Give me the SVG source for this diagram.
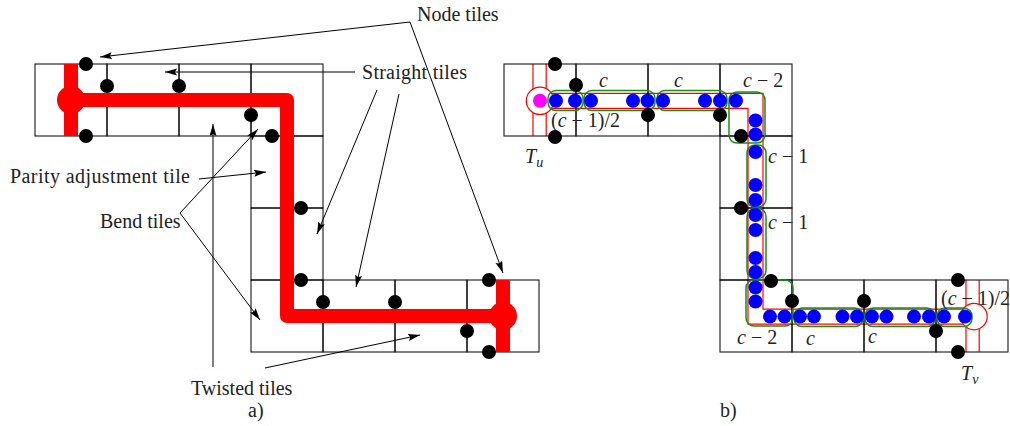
<svg xmlns="http://www.w3.org/2000/svg" width="1010" height="426" viewBox="0 0 1010 426">
<defs>
<style>
.tile{fill:none;stroke:#000;stroke-width:1}
.dot{fill:#000}
.bdot{fill:#0000ff}
.grp{fill:none;stroke:#1a8c1a;stroke-width:1.5}
.lbl{font-size:20px;fill:#222}
.it{font-style:italic}
.sub{font-style:italic;font-size:14px}
.con{fill:none;stroke:#000;stroke-width:1}
.ring{fill:#fff;stroke:#ff0000;stroke-width:1.2}
</style>
<marker id="arr" markerUnits="userSpaceOnUse" markerWidth="14" markerHeight="8" refX="12" refY="3.5" orient="auto">
<path d="M0,0 L12,3.5 L0,7 L2,3.5 z" fill="#000"/>
</marker>
</defs>
<rect width="1010" height="426" fill="#fff"/>

<!-- ===== a) ===== -->
<g id="a-tiles">
<rect class="tile" x="35" y="64" width="72" height="72"/>
<rect class="tile" x="107" y="64" width="72" height="72"/>
<rect class="tile" x="179" y="64" width="72" height="72"/>
<rect class="tile" x="251" y="64" width="72" height="72"/>
<rect class="tile" x="251" y="136" width="72" height="72"/>
<rect class="tile" x="251" y="208" width="72" height="72"/>
<rect class="tile" x="251" y="280" width="72" height="72"/>
<rect class="tile" x="323" y="280" width="72" height="72"/>
<rect class="tile" x="395" y="280" width="72" height="72"/>
<rect class="tile" x="467" y="280" width="72" height="72"/>
</g>
<g id="a-path" fill="#ff0000">
<path d="M71,100 H287 V316 H503" fill="none" stroke="#ff0000" stroke-width="14" stroke-linejoin="round"/>
<rect x="64" y="64" width="14" height="72"/>
<circle cx="71" cy="100" r="14"/>
<rect x="496" y="280" width="14" height="72"/>
<circle cx="503" cy="316" r="14"/>
</g>
<g id="a-dots">
<circle class="dot" cx="86" cy="64" r="7"/>
<circle class="dot" cx="107" cy="86" r="7"/>
<circle class="dot" cx="179" cy="86" r="7"/>
<circle class="dot" cx="86" cy="136" r="7"/>
<circle class="dot" cx="251" cy="115" r="7"/>
<circle class="dot" cx="272" cy="136" r="7"/>
<circle class="dot" cx="301" cy="208" r="7"/>
<circle class="dot" cx="301" cy="280" r="7"/>
<circle class="dot" cx="323" cy="302" r="7"/>
<circle class="dot" cx="395" cy="302" r="7"/>
<circle class="dot" cx="489" cy="280" r="7"/>
<circle class="dot" cx="467" cy="331" r="7"/>
<circle class="dot" cx="489" cy="352" r="7"/>
</g>

<g id="connectors">
<line class="con" x1="410" y1="22" x2="100" y2="57" marker-end="url(#arr)"/>
<line class="con" x1="410" y1="22" x2="503" y2="273" marker-end="url(#arr)"/>
<line class="con" x1="355" y1="72" x2="165" y2="72" marker-end="url(#arr)"/>
<line class="con" x1="377" y1="90" x2="317" y2="234" marker-end="url(#arr)"/>
<line class="con" x1="399" y1="94" x2="356" y2="287" marker-end="url(#arr)"/>
<line class="con" x1="199" y1="179" x2="266" y2="172" marker-end="url(#arr)"/>
<line class="con" x1="180" y1="213" x2="258" y2="129" marker-end="url(#arr)"/>
<line class="con" x1="180" y1="213" x2="260" y2="320" marker-end="url(#arr)"/>
<line class="con" x1="213" y1="367" x2="213" y2="124" marker-end="url(#arr)"/>
<line class="con" x1="265" y1="368" x2="420" y2="335" marker-end="url(#arr)"/>
</g>

<g id="a-labels" font-family="'Liberation Serif', 'DejaVu Serif', serif">
<text id="lbl-node" class="lbl" x="417" y="21">Node tiles</text>
<text id="lbl-straight" class="lbl" x="362" y="79" textLength="105">Straight tiles</text>
<text id="lbl-parity" class="lbl" x="10" y="183" textLength="180">Parity adjustment tile</text>
<text id="lbl-bend" class="lbl" x="100" y="228">Bend tiles</text>
<text id="lbl-twisted" class="lbl" x="191" y="395">Twisted tiles</text>
<text id="lbl-a" class="lbl" x="248" y="417">a)</text>
</g>

<!-- ===== b) ===== -->
<g id="b-channel">
<g fill="#ff0000">
<path d="M540,100.8 H755.5 V316.6 H973" fill="none" stroke="#ff0000" stroke-width="16.2"/>
<rect x="532.4" y="64" width="14.4" height="72"/>
<rect x="965.4" y="280" width="14.4" height="72"/>
</g>
<g fill="#ffffff">
<path d="M540,100.8 H755.5 V316.6 H973" fill="none" stroke="#ffffff" stroke-width="13.8"/>
<rect x="533.6" y="64" width="12" height="72"/>
<rect x="966.6" y="280" width="12" height="72"/>
</g>
</g>
<g id="b-tiles">
<rect class="tile" x="504" y="64" width="72" height="72"/>
<rect class="tile" x="576" y="64" width="72" height="72"/>
<rect class="tile" x="648" y="64" width="72" height="72"/>
<rect class="tile" x="720" y="64" width="72" height="72"/>
<rect class="tile" x="720" y="136" width="72" height="72"/>
<rect class="tile" x="720" y="208" width="72" height="72"/>
<rect class="tile" x="720" y="280" width="72" height="72"/>
<rect class="tile" x="792" y="280" width="72" height="72"/>
<rect class="tile" x="864" y="280" width="72" height="72"/>
<rect class="tile" x="936" y="280" width="72" height="72"/>
</g>
<g id="b-terminals">
<circle class="ring" cx="540" cy="100.8" r="13.7"/>
<circle class="ring" cx="974" cy="316.6" r="13.2"/>
</g>
<g id="b-groups">
<rect class="grp" x="548" y="90.5" width="35" height="20" rx="8"/>
<rect class="grp" x="584" y="90.5" width="71" height="20" rx="8"/>
<rect class="grp" x="657" y="90.5" width="70" height="20" rx="8"/>
<rect class="grp" x="729" y="92" width="36" height="51" rx="8"/>
<rect class="grp" x="747" y="145" width="19" height="62" rx="8"/>
<rect class="grp" x="747" y="208.5" width="19" height="70" rx="8"/>
<rect class="grp" x="746" y="280" width="47" height="46" rx="8"/>
<rect class="grp" x="794" y="308" width="69" height="18.5" rx="8"/>
<rect class="grp" x="865" y="308" width="70" height="18.5" rx="8"/>
<rect class="grp" x="937" y="308" width="35" height="18.5" rx="8"/>
</g>
<g id="b-black-dots">
<circle class="dot" cx="555" cy="64" r="7"/>
<circle class="dot" cx="576" cy="85" r="7"/>
<circle class="dot" cx="555" cy="137" r="7"/>
<circle class="dot" cx="648" cy="115" r="7"/>
<circle class="dot" cx="720" cy="115" r="7"/>
<circle class="dot" cx="741" cy="136" r="7"/>
<circle class="dot" cx="741" cy="208" r="7"/>
<circle class="dot" cx="771" cy="281" r="7"/>
<circle class="dot" cx="792" cy="301" r="7"/>
<circle class="dot" cx="864" cy="301" r="7"/>
<circle class="dot" cx="958" cy="280" r="7"/>
<circle class="dot" cx="936" cy="331" r="7"/>
<circle class="dot" cx="958" cy="352" r="7"/>
</g>
<g id="b-blue-dots">
<circle cx="540" cy="100.8" r="7" fill="#ff00ff"/>
<circle class="bdot" cx="556" cy="100.8" r="7"/>
<circle class="bdot" cx="575" cy="100.8" r="7"/>
<circle class="bdot" cx="591" cy="100.8" r="7"/>
<circle class="bdot" cx="633" cy="100.8" r="7"/>
<circle class="bdot" cx="647.5" cy="100.8" r="7"/>
<circle class="bdot" cx="663" cy="100.8" r="7"/>
<circle class="bdot" cx="705" cy="100.8" r="7"/>
<circle class="bdot" cx="720" cy="100.8" r="7"/>
<circle class="bdot" cx="736" cy="100.8" r="7"/>
<circle class="bdot" cx="755.5" cy="120.5" r="7"/>
<circle class="bdot" cx="755.5" cy="134.5" r="7"/>
<circle class="bdot" cx="755.5" cy="152" r="7"/>
<circle class="bdot" cx="755.5" cy="185" r="7"/>
<circle class="bdot" cx="755.5" cy="200" r="7"/>
<circle class="bdot" cx="755.5" cy="215" r="7"/>
<circle class="bdot" cx="755.5" cy="230" r="7"/>
<circle class="bdot" cx="755.5" cy="258" r="7"/>
<circle class="bdot" cx="755.5" cy="272" r="7"/>
<circle class="bdot" cx="755.5" cy="287.5" r="7"/>
<circle class="bdot" cx="755.5" cy="301.5" r="7"/>
<circle class="bdot" cx="770" cy="316.6" r="7"/>
<circle class="bdot" cx="784.5" cy="316.6" r="7"/>
<circle class="bdot" cx="800" cy="316.6" r="7"/>
<circle class="bdot" cx="814" cy="316.6" r="7"/>
<circle class="bdot" cx="842.5" cy="316.6" r="7"/>
<circle class="bdot" cx="857" cy="316.6" r="7"/>
<circle class="bdot" cx="872" cy="316.6" r="7"/>
<circle class="bdot" cx="886.5" cy="316.6" r="7"/>
<circle class="bdot" cx="914" cy="316.6" r="7"/>
<circle class="bdot" cx="929" cy="316.6" r="7"/>
<circle class="bdot" cx="944" cy="316.6" r="7"/>
<circle class="bdot" cx="965" cy="316.6" r="7"/>
</g>
<g id="b-labels" font-family="'Liberation Serif', 'DejaVu Serif', serif">
<text class="lbl" x="599" y="87"><tspan class="it">c</tspan></text>
<text class="lbl" x="674" y="87"><tspan class="it">c</tspan></text>
<text class="lbl" x="743" y="87"><tspan class="it">c</tspan> − 2</text>
<text class="lbl" x="551" y="127">(<tspan class="it">c</tspan> − 1)/2</text>
<text class="lbl" x="525" y="163"><tspan class="it">T</tspan><tspan class="sub" dy="4">u</tspan></text>
<text class="lbl" x="768" y="163"><tspan class="it">c</tspan> − 1</text>
<text class="lbl" x="768" y="229"><tspan class="it">c</tspan> − 1</text>
<text class="lbl" x="737" y="344"><tspan class="it">c</tspan> − 2</text>
<text class="lbl" x="806" y="345"><tspan class="it">c</tspan></text>
<text class="lbl" x="868" y="343"><tspan class="it">c</tspan></text>
<text class="lbl" x="941" y="305">(<tspan class="it">c</tspan> − 1)/2</text>
<text class="lbl" x="961" y="380"><tspan class="it">T</tspan><tspan class="sub" dy="4">v</tspan></text>
<text class="lbl" x="720" y="417">b)</text>
</g>
</svg>
